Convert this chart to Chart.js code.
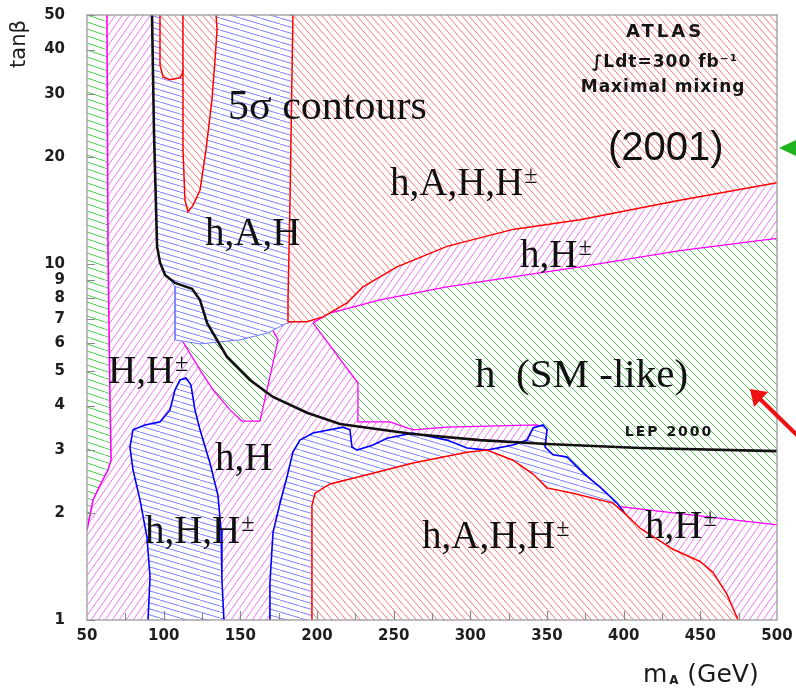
<!DOCTYPE html>
<html>
<head>
<meta charset="utf-8">
<script src="https://cdn.jsdelivr.net/npm/chart.js@4.4.1/dist/chart.umd.min.js"></script>
<style>
  html, body { margin: 0; padding: 0; background: #ffffff; }
  #wrap { width: 796px; height: 693px; position: relative; }
</style>
</head>
<body>
<div id="wrap"><canvas id="c" width="796" height="693"></canvas></div>
<script>
// MSSM discovery regions in the (m_A, tanβ) plane, 5σ contours, ATLAS 300 fb^-1, maximal mixing.
// Every polygon below is a list of [m_A (GeV), tanβ] vertices.

const xTicks = [50, 100, 150, 200, 250, 300, 350, 400, 450, 500];
const yTicks = [1, 2, 3, 4, 5, 6, 7, 8, 9, 10, 20, 30, 40, 50];

const plotFrame = [[50, 1], [500, 1], [500, 50], [50, 50], [50, 1]];

// h only (SM-like), narrow strip at low m_A
const greenStrip = [[50, 50], [63.0, 50], [63.7, 10.9], [65.0, 4.15], [65.7, 2.81], [63.7, 2.64],
  [58.5, 2.39], [53.9, 2.17], [50.7, 1.85], [50, 1.79], [50, 50]];

// h (SM-like), large region at high m_A
const greenBig = [[197.4, 6.83], [208.5, 7.28], [241.1, 7.92], [284.8, 8.62], [327.8, 9.19],
  [371.5, 9.81], [436.7, 10.9], [500, 11.8], [500, 1.85], [397.6, 2.08], [384.6, 2.36],
  [373.5, 2.59], [363.0, 2.87], [353.9, 2.91], [348.7, 3.04], [350.0, 3.42], [343.5, 3.53],
  [284.8, 3.48], [262.6, 3.42], [247.6, 3.60], [226.7, 3.60], [226.7, 4.63], [197.4, 6.83]];

// h only, pocket below the h,A,H region
const greenPocket = [[112.6, 6.04], [123.7, 5.04], [132.2, 4.43], [143.3, 3.89], [151.1, 3.62],
  [162.8, 3.62], [167.4, 4.43], [171.3, 5.27], [174.6, 6.12], [169.3, 6.74], [112.6, 6.74],
  [112.6, 6.04]];

// h,A,H
const blueUpper = [[92.4, 50], [93.7, 23.3], [95.7, 11.2], [97.6, 10.1], [100.9, 9.31],
  [105.4, 8.90], [107.4, 8.62], [107.4, 6.12], [123.7, 5.96], [149.8, 6.12], [168.0, 6.40],
  [179.1, 6.78], [185.7, 6.92], [188.9, 7.92], [188.9, 50], [92.4, 50]];

// h,A,H,H± tongue at low m_A, high tanβ
const redTongue = [[97.6, 50], [97.6, 36.2], [99.6, 33.5], [104.1, 32.9], [110.7, 33.3],
  [112.6, 34.6], [112.6, 20.9], [113.9, 15.1], [115.9, 14.0], [119.1, 14.6], [123.7, 16.1],
  [127.6, 20.9], [131.5, 28.9], [133.5, 37.4], [134.8, 45.4], [134.2, 50], [97.6, 50]];
const redDivider = [[112.6, 50], [112.6, 34.6]];

// h,A,H,H± at high tanβ
const redUpper = [[184.3, 50], [500, 50], [500, 16.9], [436.7, 15.1], [371.5, 13.3],
  [327.8, 12.5], [284.8, 11.2], [252.2, 9.81], [230.0, 8.62], [219.6, 7.77], [203.9, 7.10],
  [193.5, 6.88], [181.1, 6.88], [181.1, 7.92], [182.4, 15.1], [184.3, 50]];

// h,H,H± at intermediate m_A, low tanβ
const blueMid = [[169.3, 1], [169.3, 1.27], [171.3, 1.76], [175.9, 2.13], [180.4, 2.52],
  [184.3, 2.96], [188.9, 3.20], [197.4, 3.35], [217.0, 3.48], [221.5, 3.42], [222.8, 3.06],
  [226.1, 3.00], [236.5, 3.10], [245.7, 3.24], [262.6, 3.35], [284.8, 3.20], [297.8, 3.04],
  [310.9, 3.00], [327.8, 3.10], [337.0, 3.20], [340.9, 3.46], [347.4, 3.53], [350.0, 3.42],
  [348.7, 3.06], [353.9, 2.91], [363.0, 2.87], [373.5, 2.59], [384.6, 2.36], [395.7, 2.13],
  [400.9, 1.99], [400.9, 1], [169.3, 1]];

// h,H,H± at low m_A, low tanβ
const blueLeft = [[89.8, 1], [91.1, 1.32], [89.1, 1.71], [84.6, 2.17], [80.0, 2.64], [78.0, 3.06],
  [80.0, 3.42], [87.8, 3.53], [97.6, 3.60], [104.1, 3.89], [107.4, 4.43], [110.7, 4.72],
  [114.6, 4.78], [117.8, 4.57], [120.4, 3.89], [123.7, 3.42], [130.2, 2.76], [135.4, 2.24],
  [137.4, 1.79], [138.0, 1.30], [139.3, 1], [89.8, 1]];

// h,A,H,H± at low tanβ
const redLower = [[196.7, 1], [196.7, 2.10], [198.7, 2.27], [208.5, 2.41], [230.0, 2.54],
  [262.6, 2.76], [297.8, 2.96], [310.9, 3.00], [327.8, 2.81], [340.9, 2.57], [350.0, 2.35],
  [367.0, 2.27], [393.0, 2.13], [400.9, 1.99], [410.7, 1.81], [432.2, 1.58], [449.8, 1.46],
  [458.3, 1.36], [467.4, 1.18], [474.6, 1], [196.7, 1]];

// LEP 2000 exclusion limit
const lep2000 = [[92.4, 50], [93.7, 23.3], [95.7, 11.2], [97.6, 10.1], [100.9, 9.31],
  [107.4, 8.84], [118.5, 8.51], [123.7, 7.92], [128.3, 6.83], [141.3, 5.48], [156.3, 4.72],
  [171.3, 4.23], [193.5, 3.82], [215.0, 3.55], [262.6, 3.33], [306.3, 3.20], [350.0, 3.12],
  [410.7, 3.04], [500, 2.98]];

// Region names, placed at [m_A, tanβ] of their left baseline
const regionLabels = [
  { text: '5σ contours', sup: '', m: 142.0, t: 25.5, size: 42 },
  { text: 'h,A,H,H', sup: '±', m: 247.6, t: 15.6, size: 39 },
  { text: 'h,A,H', sup: '', m: 127.0, t: 11.3, size: 39 },
  { text: 'h,H', sup: '±', m: 332.4, t: 9.80, size: 39 },
  { text: 'H,H', sup: '±', m: 63.7, t: 4.63, size: 39 },
  { text: 'h  (SM -like)', sup: '', m: 303.1, t: 4.51, size: 41 },
  { text: 'h,H', sup: '', m: 133.5, t: 2.64, size: 39 },
  { text: 'h,H,H', sup: '±', m: 87.8, t: 1.646, size: 39 },
  { text: 'h,A,H,H', sup: '±', m: 268.5, t: 1.593, size: 39 },
  { text: 'h,H', sup: '±', m: 413.9, t: 1.699, size: 39 }
];

const SERIF = '"Liberation Serif", "DejaVu Serif", serif';
const SANS = '"DejaVu Sans", "Liberation Sans", sans-serif';

function hatch(color, w, h, dir, lw) {
  const c = document.createElement('canvas');
  c.width = w; c.height = h;
  const g = c.getContext('2d');
  g.fillStyle = '#ffffff';
  g.fillRect(0, 0, w, h);
  g.strokeStyle = color;
  g.lineWidth = lw;
  g.beginPath();
  for (let k = -1; k <= 1; k++) {
    if (dir === 'down') { g.moveTo(k * w, 0); g.lineTo((k + 1) * w, h); }
    else { g.moveTo(k * w, h); g.lineTo((k + 1) * w, 0); }
  }
  g.stroke();
  return g.createPattern(c, 'repeat');
}

const redHatch = hatch('#ff7474', 7, 8, 'down', 1);
const magentaHatch = hatch('#f278f2', 7, 10, 'up', 1);
const blueHatch = hatch('#7d7dff', 20, 6, 'down', 1);
const greenHatch = hatch('#4ccf4c', 8, 8, 'down', 1);
const greenShallow = hatch('#4ccf4c', 21, 7, 'down', 1);

const toPts = arr => arr.map(([x, y]) => ({ x, y }));

function onFrame(a, b) {
  return (a.x === b.x && (a.x === 50 || a.x === 500)) || (a.y === b.y && (a.y === 1 || a.y === 50));
}

const layers = [
  { pts: plotFrame, fill: magentaHatch, border: 'rgba(0,0,0,0)', bw: 0 },
  { pts: greenStrip, fill: greenShallow, border: '#ff00ff', bw: 1.6 },
  { pts: greenBig, fill: greenHatch, border: '#ff00ff', bw: 1.3 },
  { pts: greenPocket, fill: greenHatch, border: '#ff00ff', bw: 1.3 },
  { pts: blueUpper, fill: blueHatch, border: '#6f7bff', bw: 1 },
  { pts: redTongue, fill: redHatch, border: '#ff0000', bw: 1.5 },
  { pts: redDivider, fill: null, border: '#ff0000', bw: 1.5 },
  { pts: redUpper, fill: redHatch, border: '#ff0000', bw: 1.5 },
  { pts: blueMid, fill: blueHatch, border: '#0000ff', bw: 1.6 },
  { pts: blueLeft, fill: blueHatch, border: '#0000ff', bw: 1.6 },
  { pts: redLower, fill: redHatch, border: '#ff0000', bw: 1.5 },
  { pts: lep2000, fill: null, border: '#111111', bw: 2.6 }
];

const datasets = layers.map((L, i) => ({
  data: toPts(L.pts),
  order: layers.length - i,
  hatchFill: L.fill,
  showLine: true,
  tension: 0,
  pointRadius: 0,
  pointHoverRadius: 0,
  borderColor: L.border,
  borderWidth: L.bw,
  fill: false,
  clip: 0,
  segment: {
    borderColor: ctx => onFrame(ctx.p0.parsed, ctx.p1.parsed) ? 'rgba(0,0,0,0)' : undefined
  }
}));

// Fills each closed region with its hatch, using the points the line controller has placed.
const hatchPlugin = {
  id: 'hatchFill',
  beforeDatasetDraw(chart, args) {
    const ds = chart.data.datasets[args.index];
    if (!ds.hatchFill) return;
    const pts = args.meta.data;
    const { ctx, chartArea: a } = chart;
    ctx.save();
    ctx.beginPath();
    ctx.rect(a.left, a.top, a.right - a.left, a.bottom - a.top);
    ctx.clip();
    ctx.beginPath();
    pts.forEach((p, i) => (i ? ctx.lineTo(p.x, p.y) : ctx.moveTo(p.x, p.y)));
    ctx.closePath();
    ctx.fillStyle = ds.hatchFill;
    ctx.fill();
    ctx.restore();
  }
};

function richText(ctx, x, y, text, sup, size, family, align) {
  ctx.font = size + 'px ' + family;
  const w1 = ctx.measureText(text).width;
  const ss = size * 0.62;
  let w2 = 0;
  if (sup) { ctx.font = ss + 'px ' + family; w2 = ctx.measureText(sup).width; }
  const x0 = align === 'center' ? x - (w1 + w2) / 2 : x;
  ctx.font = size + 'px ' + family;
  ctx.fillText(text, x0, y);
  if (sup) {
    ctx.font = ss + 'px ' + family;
    ctx.fillText(sup, x0 + w1 + 1, y - size * 0.3);
  }
}

const decorPlugin = {
  id: 'decor',
  afterDatasetsDraw(chart) {
    const { ctx, chartArea: a, scales } = chart;
    const xs = scales.x, ys = scales.y;
    ctx.save();
    ctx.strokeStyle = '#9a9a9a';
    ctx.lineWidth = 1.3;
    ctx.strokeRect(a.left, a.top, a.right - a.left, a.bottom - a.top);
    ctx.strokeStyle = '#8a8a8a';
    ctx.lineWidth = 1.2;
    ctx.beginPath();
    yTicks.forEach(v => {
      const py = Math.round(ys.getPixelForValue(v)) + 0.5;
      ctx.moveTo(a.left, py); ctx.lineTo(a.left + 8, py);
    });
    for (let v = 75; v < 500; v += 25) {
      const px = Math.round(xs.getPixelForValue(v)) + 0.5;
      ctx.moveTo(px, a.bottom); ctx.lineTo(px, a.bottom - (v % 50 === 0 ? 9 : 7));
    }
    ctx.stroke();
    ctx.restore();
  },
  afterDraw(chart) {
    const { ctx, scales } = chart;
    const xs = scales.x, ys = scales.y;
    ctx.save();
    ctx.fillStyle = '#111111';
    ctx.textBaseline = 'alphabetic';
    ctx.textAlign = 'left';
    regionLabels.forEach(L => {
      richText(ctx, xs.getPixelForValue(L.m), ys.getPixelForValue(L.t), L.text, L.sup, L.size, SERIF, 'left');
    });

    ctx.font = '40px "Liberation Sans", Arial, sans-serif';
    ctx.fillText('(2001)', xs.getPixelForValue(389.8), ys.getPixelForValue(19.6));

    ctx.textAlign = 'center';
    ctx.textBaseline = 'middle';
    ctx.fillStyle = '#151515';
    ctx.letterSpacing = '3px';
    ctx.font = 'bold 18px ' + SANS;
    ctx.fillText('ATLAS', xs.getPixelForValue(427.0), ys.getPixelForValue(44.8));
    ctx.letterSpacing = '1px';
    ctx.font = 'bold 17px ' + SANS;
    ctx.fillText('∫Ldt=300 fb⁻¹', xs.getPixelForValue(427.0), ys.getPixelForValue(36.7));
    ctx.fillText('Maximal mixing', xs.getPixelForValue(425.7), ys.getPixelForValue(31.2));
    ctx.letterSpacing = '2px';
    ctx.font = 'bold 14px ' + SANS;
    ctx.fillText('LEP 2000', xs.getPixelForValue(429.6), ys.getPixelForValue(3.37));
    ctx.letterSpacing = '0px';

    ctx.fillStyle = '#1a1a1a';
    ctx.save();
    ctx.translate(20, 44);
    ctx.rotate(-Math.PI / 2);
    ctx.font = '21px ' + SANS;
    ctx.textAlign = 'center';
    ctx.textBaseline = 'middle';
    ctx.fillText('tanβ', 0, 0);
    ctx.restore();

    ctx.textAlign = 'left';
    ctx.textBaseline = 'alphabetic';
    ctx.font = '25px ' + SANS;
    const mx = 643, my = 682;
    ctx.fillText('m', mx, my);
    const mw = ctx.measureText('m').width;
    ctx.font = 'bold 12px ' + SANS;
    ctx.fillText('A', mx + mw + 2, my + 2);
    ctx.font = '25px ' + SANS;
    ctx.fillText('(GeV)', mx + mw + 20, my);

    ctx.fillStyle = '#1fb31f';
    ctx.beginPath();
    ctx.moveTo(779, 148); ctx.lineTo(800, 138); ctx.lineTo(800, 158); ctx.closePath();
    ctx.fill();
    ctx.strokeStyle = '#ee1111';
    ctx.fillStyle = '#ee1111';
    ctx.lineWidth = 4;
    ctx.beginPath();
    ctx.moveTo(800, 438); ctx.lineTo(758, 397); ctx.stroke();
    ctx.beginPath();
    ctx.moveTo(750, 389); ctx.lineTo(754, 407); ctx.lineTo(768, 392); ctx.closePath();
    ctx.fill();
    ctx.restore();
  }
};

new Chart(document.getElementById('c'), {
  type: 'line',
  data: { datasets },
  options: {
    responsive: false,
    devicePixelRatio: 1,
    animation: false,
    events: [],
    layout: { padding: { left: 0, right: 19, top: 15, bottom: 0 } },
    plugins: {
      legend: { display: false },
      tooltip: { enabled: false }
    },
    scales: {
      x: {
        type: 'linear',
        min: 50, max: 500,
        grid: { display: false, drawTicks: false },
        border: { display: false },
        afterBuildTicks: s => { s.ticks = xTicks.map(v => ({ value: v })); },
        afterFit: s => { s.height = 73; s.paddingLeft = 0; s.paddingRight = 0; },
        ticks: {
          autoSkip: false, maxRotation: 0, padding: 7,
          color: '#1e1e1e',
          font: { family: 'DejaVu Sans', size: 15, weight: 'bold' },
          callback: v => String(v)
        }
      },
      y: {
        type: 'logarithmic',
        min: 1, max: 50,
        grid: { display: false, drawTicks: false },
        border: { display: false },
        afterBuildTicks: s => { s.ticks = yTicks.map(v => ({ value: v })); },
        afterFit: s => { s.width = 87; s.paddingTop = 0; s.paddingBottom = 0; },
        ticks: {
          autoSkip: false, padding: 22,
          color: '#1e1e1e',
          font: { family: 'DejaVu Sans', size: 15, weight: 'bold' },
          callback: v => String(v)
        }
      }
    }
  },
  plugins: [hatchPlugin, decorPlugin]
});
</script>
</body>
</html>
